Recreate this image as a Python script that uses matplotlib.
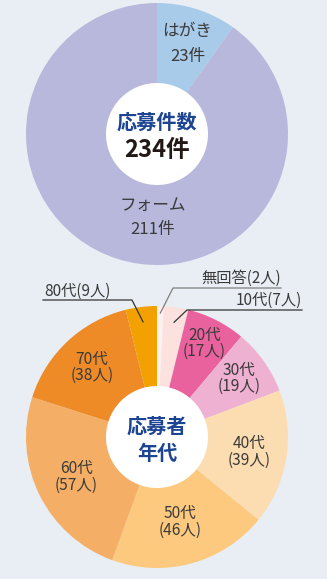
"""Two donut charts: entries by method and entrants by age group."""

import matplotlib
matplotlib.use('Agg')
import matplotlib.pyplot as plt
import numpy as np
from matplotlib.patches import Circle

plt.rcParams['font.family'] = ['Noto Sans CJK JP', 'DejaVu Sans']

# 応募方法
method_labels = ['はがき', 'フォーム']
method_counts = [23, 211]
method_colors = ['#a8cbe9', '#b7b8dc']

# 応募者の年代 (12時から時計回り)
age_labels = ['無回答', '10代', '20代', '30代', '40代', '50代', '60代', '70代', '80代']
age_counts = [2, 7, 17, 19, 39, 46, 57, 38, 9]
age_colors = ['#fdf1f0', '#fde1df', '#e9629d', '#eeb1d2', '#fcddb1',
              '#fcc97e', '#f5ae66', '#ef8b27', '#f2a100']

BG = '#e8eef3'
TEXT = '#3a3a3a'
NAVY = '#1d4492'

W, H = 327, 579
R = 131
HOLE = 51
TOP = (157, H - 134)
BOTTOM = (157, H - 437)


def mid_angles(counts):
    """Centre angle of each wedge, degrees clockwise from 12 o'clock."""
    edges = np.cumsum([0] + list(counts)) / sum(counts) * 360
    return (edges[:-1] + edges[1:]) / 2


def polar(center, angle, r):
    a = np.deg2rad(90 - angle)
    return center[0] + r * np.cos(a), center[1] + r * np.sin(a)


def donut(ax, counts, colors, center):
    ax.pie(counts, colors=colors, startangle=90, counterclock=False,
           center=center, radius=R, wedgeprops=dict(linewidth=0))
    ax.add_patch(Circle(center, HOLE, facecolor='white', edgecolor='none',
                        zorder=3))


fig = plt.figure(figsize=(W / 100, H / 100), dpi=100, facecolor=BG)
ax = fig.add_axes([0, 0, 1, 1])

# --- 応募件数 ---
donut(ax, method_counts, method_colors, TOP)
top_mid = mid_angles(method_counts)
top_label_pos = [(top_mid[0] + 1, 95), (183, 84)]  # (angle, radius)
for label, count, (ang, r) in zip(method_labels, method_counts, top_label_pos):
    x, y = polar(TOP, ang, r)
    ax.text(x, y, f'{label}\n{count}件', ha='center', va='center',
            fontsize=12, color=TEXT, linespacing=1.55, zorder=4)

ax.text(TOP[0], TOP[1] + 12, '応募件数', ha='center', va='center',
        fontsize=14.5, fontweight='bold', color=NAVY, zorder=4)
ax.text(TOP[0], TOP[1] - 16, f'{sum(method_counts)}件', ha='center',
        va='center', fontsize=17, fontweight='bold', color='#231815', zorder=4)

# --- 応募者年代 ---
donut(ax, age_counts, age_colors, BOTTOM)
age_mid = mid_angles(age_counts)
inner_r = {2: 105, 3: 101, 4: 93, 5: 88, 6: 90, 7: 95}
for i, r in inner_r.items():
    x, y = polar(BOTTOM, age_mid[i], r)
    ax.text(x, y, f'{age_labels[i]}\n({age_counts[i]}人)', ha='center',
            va='center', fontsize=11.2, color=TEXT, linespacing=0.95, zorder=4)

# small wedges: leader lines out to labels
leaders = [
    # index, anchor radius, elbow, line end, text x, text y, ha, line colour
    (0, 124, (173, 288), (281, 288), 281, 278, 'right', '#7f7f7f'),
    (1, 116, (187, 310), (302, 310), 302, 300, 'right', '#333333'),
    (8, 116, (132, 300), (43, 300), 44, 291, 'left', '#333333'),
]
for i, ar, elbow, end, tx, ty, ha, lc in leaders:
    x0, y0 = polar(BOTTOM, age_mid[i], ar)
    ax.plot([x0, elbow[0], end[0]], [y0, H - elbow[1], H - end[1]],
            color=lc, linewidth=0.9, zorder=4)
    ax.text(tx, H - ty, f'{age_labels[i]}({age_counts[i]}人)', ha=ha,
            va='center', fontsize=11, color=TEXT, zorder=4)

ax.text(BOTTOM[0], BOTTOM[1] + 11, '応募者', ha='center', va='center',
        fontsize=14.5, fontweight='bold', color=NAVY, zorder=4)
ax.text(BOTTOM[0], BOTTOM[1] - 17, '年代', ha='center', va='center',
        fontsize=14.5, fontweight='bold', color=NAVY, zorder=4)

ax.set_xlim(0, W)
ax.set_ylim(0, H)
ax.set_aspect('equal')
ax.axis('off')

fig.savefig('out.png', dpi=100, facecolor=BG)
